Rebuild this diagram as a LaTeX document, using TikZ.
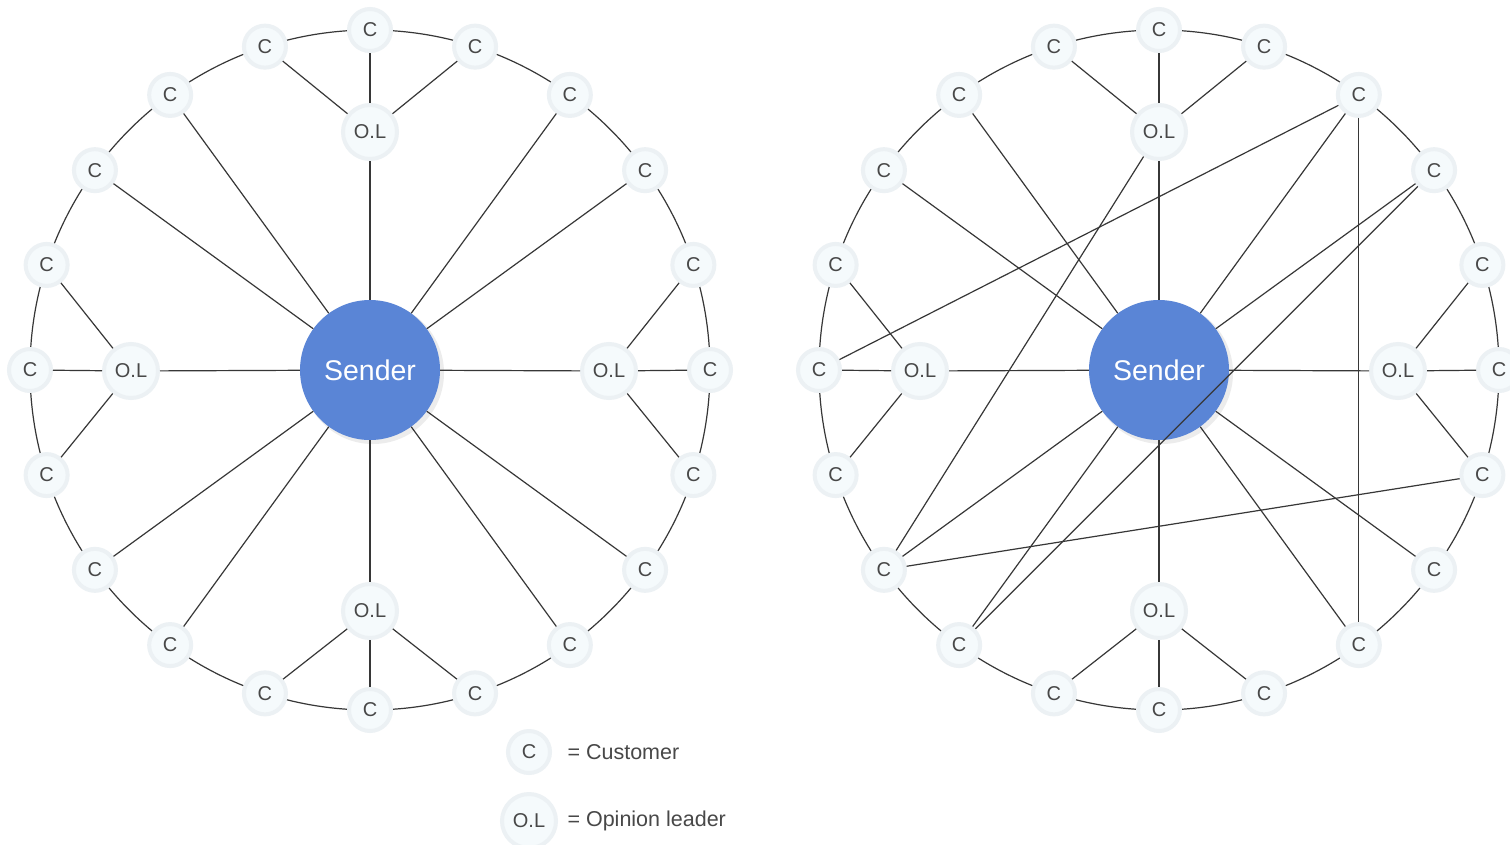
\documentclass[tikz,border=0pt]{standalone}
\usepackage{fontspec}
\setmainfont{Liberation Sans}
\definecolor{senderblue}{RGB}{90,133,214}
\definecolor{nodefill}{RGB}{245,250,252}
\definecolor{halo}{RGB}{236,241,244}
\definecolor{linegray}{RGB}{55,55,55}
\definecolor{txt}{RGB}{72,72,72}
\begin{document}
\begin{tikzpicture}[x=1pt,y=-1pt,
  cnode/.style={circle, fill=nodefill, draw=halo, line width=4pt, minimum size=42pt, inner sep=0pt, font=\fontsize{20}{20}\selectfont, text=txt},
  olnode/.style={cnode, minimum size=54pt},
  sender/.style={circle, fill=senderblue, minimum size=140pt, inner sep=0pt, text=white, font=\fontsize{28.5}{28.5}\selectfont},
  link/.style={draw=linegray, line width=1.2pt},
  ring/.style={draw=linegray, line width=1.2pt},
  legend/.style={anchor=west, text=txt, font=\fontsize{21.5}{21.5}\selectfont}]
\useasboundingbox (0,0) rectangle (1510,844);
\clip (0,0) rectangle (1510,844);
\fill[white] (0,0) rectangle (1510,844);
\foreach \cx in {370,1159} {
  \draw[ring] (\cx,370) circle[radius=340];
}
\foreach \P/\cx in {L/370,R/1159} {
  \fill[gray, opacity=0.15] (\cx+3,373) circle[radius=71];
  \node[sender] (\P-S) at (\cx,370) {Sender};
  \foreach \i in {0,...,19}
    \node[cnode] (\P-\i) at ({\cx+340*sin(18*\i)},{370-340*cos(18*\i)}) {C};
  \node[olnode] (\P-T) at (\cx,132) {O.L};
  \node[olnode] (\P-B) at (\cx,611) {O.L};
  \node[olnode] (\P-W) at (\cx-239,371) {O.L};
  \node[olnode] (\P-E) at (\cx+239,371) {O.L};
}
\foreach \P in {L,R} {
  \foreach \j in {2,3,7,8,12,13,17,18} \draw[link] (\P-S) -- (\P-\j);
  \foreach \o in {T,E,B,W} \draw[link] (\P-S) -- (\P-\o);
  \foreach \j in {19,0,1} \draw[link] (\P-T) -- (\P-\j);
  \foreach \j in {4,5,6} \draw[link] (\P-E) -- (\P-\j);
  \foreach \j in {9,10,11} \draw[link] (\P-B) -- (\P-\j);
  \foreach \j in {14,15,16} \draw[link] (\P-W) -- (\P-\j);
}
% extra cross links on the right
\draw[link] (R-T) -- (R-13);
\draw[link] (R-2) -- (R-15);
\draw[link] (R-2) -- (R-8);
\draw[link] (R-3) -- (R-12);
\draw[link] (R-6) -- (R-13);
% legend
\node[cnode] (lgC) at (529,752) {C};
\node[olnode] (lgO) at (529,821) {O.L};
\node[legend] (lgCt) at (564,752) {= Customer};
\node[legend] (lgOt) at (564,821) {= Opinion leader};
\end{tikzpicture}
\end{document}
